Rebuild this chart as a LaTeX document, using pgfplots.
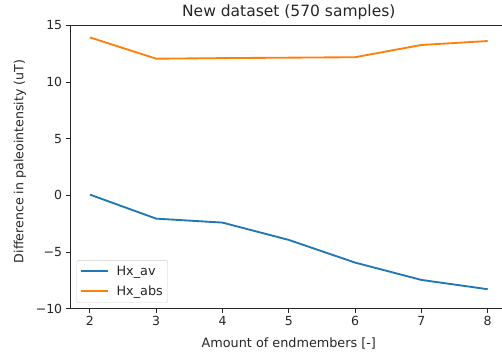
\documentclass[border=0pt]{standalone}
\usepackage{fontspec}
\setmainfont{DejaVu Sans}
\usepackage{pgfplots}
\pgfplotsset{compat=1.18}
\definecolor{c0}{HTML}{1F77B4}
\definecolor{c1}{HTML}{FF7F0E}
\begin{document}
\begin{tikzpicture}[x=1pt,y=1pt]
\begin{axis}[
  at={(0,0)}, anchor=south west,
  scale only axis, width=437.6pt, height=283.2pt,
  xmin=1.7, xmax=8.3, ymin=-10, ymax=15,
  xtick={2,3,4,5,6,7,8},
  ytick={-10,-5,0,5,10,15},
  yticklabels={−10,−5,0,5,10,15},
  tick align=outside, tick pos=left,
  major tick length=4.3pt,
  every tick/.style={black!85, line width=1pt},
  axis line style={line width=1pt, black!85},
  ticklabel style={font=\fontsize{12.5}{14}\selectfont, text=black!85},
  /pgf/number format/assume math mode=true,
  every axis title shift=0pt,
  title={New dataset (570 samples)},
  title style={font=\fontsize{15.5}{18}\selectfont, text=black!85, at={(axis description cs:0.5,1)}, anchor=center, yshift=13.5pt},
  xlabel={Amount of endmembers [-]},
  xlabel style={font=\fontsize{12.8}{14}\selectfont, text=black!85, at={(axis description cs:0.5,0)}, anchor=center, yshift=-34.5pt},
  ylabel={Difference in paleointensity (uT)},
  ylabel style={font=\fontsize{12.6}{14}\selectfont, text=black!85, at={(axis description cs:-0.1143,0.52)}, anchor=center},
  legend style={at={(axis description cs:0,0)}, anchor=south west, xshift=6.5pt, yshift=6pt,
    draw=black!20, rounded corners=2pt, fill=white, font=\fontsize{12.8}{14}\selectfont,
    inner xsep=3pt, inner ysep=3.5pt, row sep=5pt, text=black!85},
  legend cell align=left,
  legend image code/.code={\draw[#1] (0pt,0pt) -- (27pt,0pt); \path (33pt,0pt);},
]
\addplot[c0, line width=1.85pt] coordinates {(2,0.07) (3,-2.05) (4,-2.40) (5,-3.93) (6,-5.93) (7,-7.46) (8,-8.28)};
\addlegendentry{Hx\_av}
\addplot[c1, line width=1.85pt] coordinates {(2,13.95) (3,12.07) (4,12.12) (5,12.16) (6,12.2) (7,13.28) (8,13.63)};
\addlegendentry{Hx\_abs}
\end{axis}
\pgfresetboundingbox
\path[use as bounding box] (-70,-49.3) rectangle (432,308.7);
\end{tikzpicture}
\end{document}
